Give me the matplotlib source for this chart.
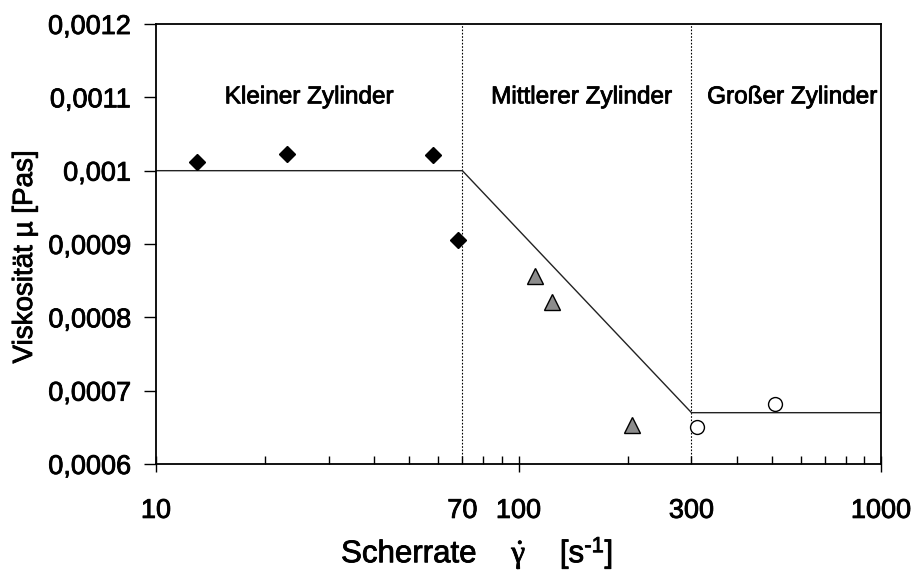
import numpy as np
import matplotlib.pyplot as plt
import matplotlib.patheffects as pe
from matplotlib.text import Text
from matplotlib.ticker import FixedLocator, NullFormatter

plt.rcParams['font.family'] = ['Liberation Sans', 'DejaVu Sans']
plt.rcParams['mathtext.fontset'] = 'custom'
plt.rcParams['mathtext.rm'] = 'Liberation Serif'
plt.rcParams['mathtext.it'] = 'Liberation Serif:italic'
plt.rcParams['mathtext.sf'] = 'Liberation Sans'

# Messwerte je Zylindergroesse (Scherrate in 1/s, Viskositaet in Pas)
klein_x = [13.0, 23.0, 58.0, 68.0]
klein_y = [0.001012, 0.001023, 0.001022, 0.000906]
mittel_x = [111, 124, 205]
mittel_y = [0.000857, 0.000821, 0.000653]
gross_x = [310, 510]
gross_y = [0.000650, 0.000682]

# Modellkurve
modell_x = [10, 70, 300, 1000]
modell_y = [0.001, 0.001, 0.00067, 0.00067]

x_ticks = [10, 70, 100, 300, 1000]
x_ticklabels = ['10', '70', '100', '300', '1000']
y_ticks = [0.0006, 0.0007, 0.0008, 0.0009, 0.001, 0.0011, 0.0012]
y_ticklabels = ['0,0006', '0,0007', '0,0008', '0,0009', '0,001', '0,0011', '0,0012']

bereiche = ['Kleiner Zylinder', 'Mittlerer Zylinder', 'Großer Zylinder']
bereich_x = [26.4, 149, 568]
grenzen = [70, 300]

fig = plt.figure(figsize=(9.14, 5.73), dpi=100)
ax = fig.add_axes([0.1707, 0.1902, 0.7932, 0.7679])

ax.plot(modell_x, modell_y, color='#222222', lw=1.0, zorder=2)
for g in grenzen:
    ax.axvline(g, color='black', lw=0.8, ls=(0, (1.5, 1.5)), zorder=1)

ax.plot(klein_x, klein_y, 'D', ms=8, color='black', zorder=3)
ax.plot(mittel_x, mittel_y, '^', ms=11, mfc='#8c8c8c', mec='black', mew=1.0, zorder=3)
ax.plot(gross_x, gross_y, 'o', ms=10, mfc='white', mec='black', mew=1.0, zorder=3)

for name, bx in zip(bereiche, bereich_x):
    ax.text(bx, 0.00110, name, ha='center', va='center', fontsize=17.5)

ax.set_xscale('log')
ax.set_xlim(10, 1000)
ax.set_ylim(0.0006, 0.0012)

ax.xaxis.set_major_locator(FixedLocator([10, 100, 1000]))
ax.xaxis.set_major_formatter(NullFormatter())
ax.xaxis.set_minor_locator(FixedLocator([20, 30, 40, 50, 60, 70, 80, 90,
                                          200, 300, 400, 500, 600, 700, 800, 900]))
ax.xaxis.set_minor_formatter(NullFormatter())
ax.tick_params(axis='x', which='major', direction='inout', length=11, width=1.0)
ax.tick_params(axis='x', which='minor', direction='in', length=6, width=1.0)

# Beschriftung der x-Achse separat, damit 70 und 300 keine eigenen Striche bekommen
for xt, lab in zip(x_ticks, x_ticklabels):
    ax.text(xt, -0.077, lab, transform=ax.get_xaxis_transform(),
            ha='center', va='top', fontsize=19.5)

ax.set_yticks(y_ticks)
ax.set_yticklabels(y_ticklabels)
ax.tick_params(axis='y', direction='out', length=9, width=1.0, pad=9, labelsize=19.5)

for sp in ax.spines.values():
    sp.set_linewidth(1.3)

fig.text(25 / 914, 1 - 257 / 573, 'Viskosität µ [Pas]', rotation=90,
         ha='center', va='center', fontsize=20)
fig.text(477 / 914, 1 - 553 / 573,
         r'Scherrate    $\dot{\mathrm{\gamma}}$    [s$^{\mathsf{‐1}}$]',
         ha='center', va='center', fontsize=22.5)

# etwas kraeftigere Schrift
for t in fig.findobj(Text):
    t.set_path_effects([pe.withStroke(linewidth=0.6, foreground='black')])

fig.savefig('out.png', dpi=100)
